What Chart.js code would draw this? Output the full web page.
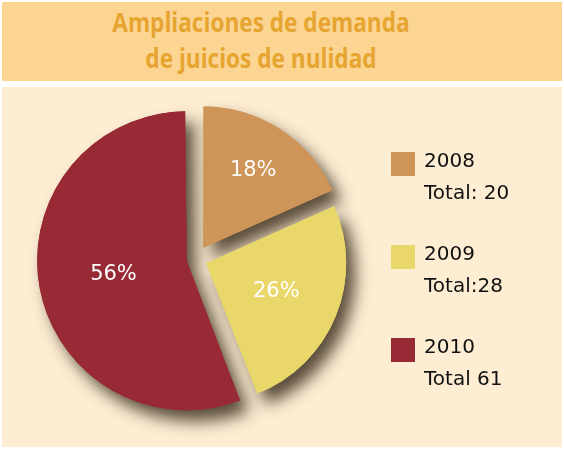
<!DOCTYPE html>
<html>
<head>
<meta charset="utf-8">
<script src="https://cdn.jsdelivr.net/npm/chart.js@4.4.0/dist/chart.umd.min.js"></script>
<style>
  html, body { margin: 0; padding: 0; background: #ffffff; }
  #wrap { position: relative; width: 564px; height: 449px; overflow: hidden; }
  #head {
    position: absolute; left: 2px; top: 2px; width: 560px; height: 79px;
    background: #fdd592;
  }
  #title {
    position: absolute; left: 0; top: 4px; width: 522px; text-align: center;
    font-family: "Open Sans", sans-serif; font-weight: 700; font-size: 26px;
    line-height: 36px; color: #e6a531;
    transform: scaleX(0.87); transform-origin: 261px 0;
  }
  #panel {
    position: absolute; left: 2px; top: 87px; width: 560px; height: 360px;
    background: #fdedd3;
  }
  #pie { position: absolute; left: 0; top: 0; }
  .key { position: absolute; left: 391px; width: 24px; height: 24px; }
  .txt {
    position: absolute; left: 424px; font-family: "DejaVu Sans", sans-serif;
    font-size: 20px; line-height: 32px; color: #111;
  }
</style>
</head>
<body>
<div id="wrap">
  <div id="head"></div>
  <div id="title">Ampliaciones de demanda<br>de juicios de nulidad</div>
  <div id="panel"></div>
  <canvas id="pie" width="564" height="449"></canvas>
  <div id="legend"></div>
</div>
<script>
const years = ['2008', '2009', '2010'];
const totals = [20, 28, 61];
const totalLabels = ['Total: 20', 'Total:28', 'Total 61'];
const colors = ['#cf9457', '#ead76a', '#982a36'];

// legend on the right: colour square, year, total
const legend = document.getElementById('legend');
years.forEach((y, i) => {
  const top = 152 + i * 93;
  const sq = document.createElement('div');
  sq.className = 'key';
  sq.style.top = top + 'px';
  sq.style.background = colors[i];
  legend.appendChild(sq);
  const t = document.createElement('div');
  t.className = 'txt';
  t.style.top = (top - 8) + 'px';
  t.innerHTML = y + '<br>' + totalLabels[i];
  legend.appendChild(t);
});

const sum = totals.reduce((a, b) => a + b, 0);
const labelDist = [0.75, 0.62, 0.6];

// soft drop shadow under every slice, drawn before the slices themselves
const shadowPlugin = {
  id: 'pieShadow',
  beforeDatasetsDraw(chart) {
    const ctx = chart.ctx;
    ctx.save();
    ctx.shadowColor = 'rgba(60, 48, 30, 0.85)';
    ctx.shadowBlur = 16;
    ctx.shadowOffsetX = 9;
    ctx.shadowOffsetY = 11;
    chart.getDatasetMeta(0).data.forEach(a => a.draw(ctx));
    ctx.restore();
  }
};

// percentage inside each slice
const pctPlugin = {
  id: 'pctLabels',
  afterDatasetsDraw(chart) {
    const ctx = chart.ctx;
    ctx.save();
    ctx.font = '21px "DejaVu Sans"';
    ctx.fillStyle = '#ffffff';
    ctx.textAlign = 'center';
    ctx.textBaseline = 'middle';
    chart.getDatasetMeta(0).data.forEach((arc, i) => {
      const mid = (arc.startAngle + arc.endAngle) / 2;
      const r = arc.outerRadius * labelDist[i];
      const pct = Math.round(totals[i] / sum * 100) + '%';
      ctx.fillText(pct, arc.x + Math.cos(mid) * r, arc.y + Math.sin(mid) * r);
    });
    ctx.restore();
  }
};

new Chart(document.getElementById('pie'), {
  type: 'pie',
  data: {
    labels: years,
    datasets: [{
      data: totals,
      backgroundColor: colors,
      borderWidth: 0,
      offset: [54, 44, 38],
      radius: 140
    }]
  },
  options: {
    responsive: false,
    animation: false,
    layout: { padding: { left: 46, right: 218, top: 109, bottom: 40 } },
    plugins: { legend: { display: false }, tooltip: { enabled: false } },
    events: []
  },
  plugins: [shadowPlugin, pctPlugin]
});
</script>
</body>
</html>
